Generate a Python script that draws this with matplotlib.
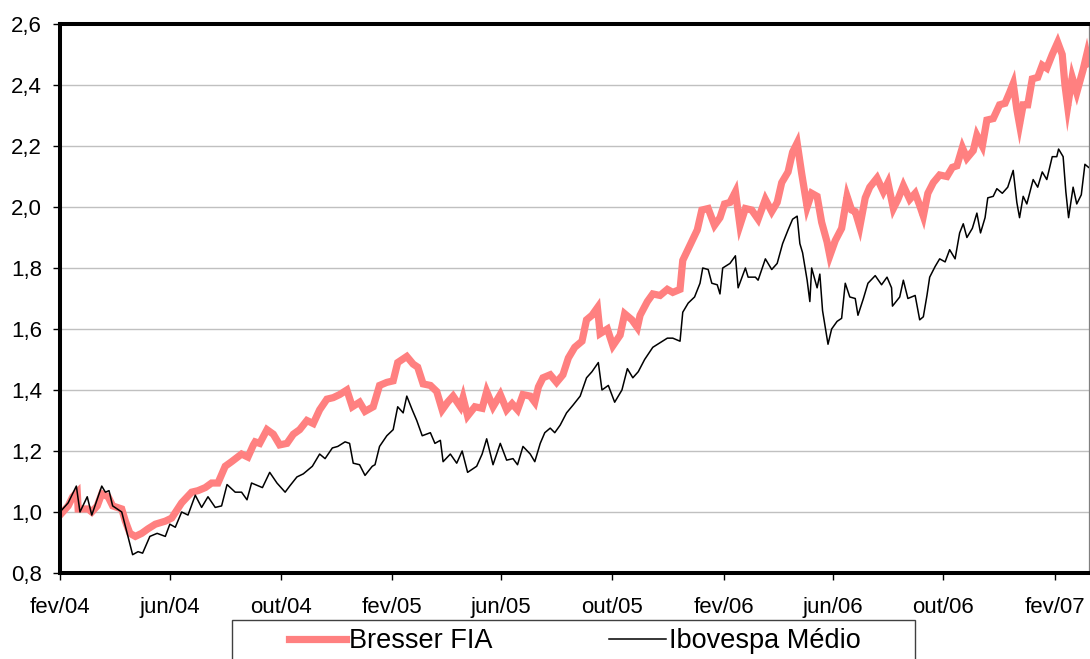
import numpy as np
import pandas as pd
import matplotlib
matplotlib.use("Agg")
import matplotlib.pyplot as plt
from matplotlib.patches import Rectangle

plt.rcParams['font.family'] = ['Liberation Sans', 'DejaVu Sans']

# ---------------- data (days since 2004-02-01, index value) ----------------
start_date = "2004-02-01"

bresser_days = [0, 9, 14, 19, 20, 31, 35, 41, 46, 53, 58, 68, 72, 77, 83, 90, 97, 105, 116, 123,
                134, 145, 152, 160, 167, 174, 182, 189, 200, 207, 213, 215, 220, 228, 235, 242, 250,
                257, 264, 272, 279, 286, 294, 301, 308, 316, 322, 330, 336, 345, 352, 360, 367, 372,
                382, 389, 394, 400, 408, 415, 421, 427, 433, 441, 444, 449, 457, 465, 470, 477, 485,
                492, 498, 504, 510, 518, 523, 527, 532, 540, 547, 554, 560, 567, 575, 580, 586, 592,
                595, 603, 609, 617, 622, 630, 636, 639, 647, 653, 661, 669, 675, 683, 686, 694, 702,
                707, 714, 721, 727, 732, 738, 744, 749, 755, 762, 769, 777, 784, 790, 795, 802, 807,
                812, 817, 823, 828, 834, 839, 845, 848, 854, 861, 867, 872, 876, 881, 887, 892, 900,
                907, 912, 918, 923, 929, 936, 942, 947, 951, 956, 962, 969, 977, 983, 988, 994, 999,
                1006, 1010, 1016, 1021, 1028, 1035, 1041, 1046, 1050, 1054, 1057, 1061, 1066, 1071,
                1077, 1082, 1087, 1093, 1099, 1104, 1107, 1110, 1115, 1120, 1127, 1131, 1133]
bresser_vals = [0.99, 1.02, 1.05, 1.065, 1.01, 1.01, 1.00, 1.02, 1.06, 1.05, 1.02, 1.01, 0.97, 0.93,
                0.92, 0.93, 0.945, 0.96, 0.97, 0.98, 1.03, 1.065, 1.07, 1.08, 1.095, 1.095, 1.15,
                1.165, 1.19, 1.18, 1.22, 1.23, 1.225, 1.27, 1.255, 1.22, 1.225, 1.255, 1.27, 1.30,
                1.29, 1.335, 1.37, 1.375, 1.385, 1.40, 1.345, 1.36, 1.33, 1.345, 1.415, 1.425, 1.43,
                1.49, 1.51, 1.485, 1.475, 1.42, 1.415, 1.395, 1.335, 1.36, 1.38, 1.345, 1.375, 1.315,
                1.345, 1.34, 1.395, 1.345, 1.385, 1.335, 1.355, 1.335, 1.385, 1.38, 1.36, 1.41, 1.44,
                1.45, 1.425, 1.45, 1.505, 1.54, 1.56, 1.63, 1.645, 1.67, 1.585, 1.60, 1.545, 1.58,
                1.65, 1.63, 1.605, 1.645, 1.69, 1.715, 1.71, 1.73, 1.72, 1.73, 1.825, 1.875, 1.925,
                1.99, 1.995, 1.94, 1.965, 2.01, 2.015, 2.05, 1.94, 1.995, 1.99, 1.96, 2.025, 1.985,
                2.015, 2.08, 2.115, 2.18, 2.21, 2.11, 2.00, 2.045, 2.035, 1.95, 1.885, 1.84, 1.89,
                1.93, 2.035, 1.99, 1.985, 1.935, 2.03, 2.065, 2.095, 2.05, 2.08, 1.995, 2.025, 2.07,
                2.025, 2.045, 2.005, 1.97, 2.045, 2.08, 2.105, 2.10, 2.13, 2.135, 2.195, 2.16, 2.185,
                2.235, 2.20, 2.285, 2.29, 2.335, 2.34, 2.375, 2.405, 2.32, 2.27, 2.335, 2.335, 2.42,
                2.425, 2.465, 2.455, 2.50, 2.54, 2.50, 2.40, 2.33, 2.425, 2.375, 2.45, 2.50, 2.47]

ibov_days = [0, 9, 18, 22, 30, 35, 46, 50, 54, 58, 68, 74, 80, 86, 91, 99, 107, 116, 121, 127, 134,
             141, 149, 156, 163, 171, 178, 184, 193, 200, 206, 211, 215, 223, 231, 239, 248, 253, 261,
             268, 278, 286, 292, 300, 306, 314, 319, 323, 330, 336, 344, 347, 352, 360, 367, 372, 378,
             382, 388, 393, 399, 408, 413, 419, 422, 430, 437, 443, 449, 459, 465, 470, 477, 485, 492,
             499, 504, 510, 518, 523, 529, 534, 540, 545, 551, 558, 565, 573, 580, 586, 593, 597, 604,
             611, 619, 625, 631, 637, 644, 653, 661, 669, 675, 683, 686, 692, 699, 705, 708, 714, 718,
             724, 727, 730, 738, 744, 747, 755, 758, 766, 769, 777, 784, 790, 796, 802, 807, 812, 815,
             818, 823, 826, 828, 834, 837, 840, 846, 850, 856, 861, 865, 870, 876, 879, 885, 890, 898,
             905, 911, 916, 917, 925, 929, 934, 942, 947, 951, 955, 958, 964, 969, 975, 980, 986, 991,
             995, 999, 1005, 1010, 1014, 1019, 1022, 1028, 1032, 1038, 1044, 1050, 1054, 1057, 1061,
             1065, 1072, 1077, 1082, 1087, 1093, 1098, 1100, 1105, 1108, 1111, 1116, 1120, 1125, 1129,
             1133]
ibov_vals = [1.00, 1.03, 1.085, 1.00, 1.05, 0.99, 1.085, 1.065, 1.07, 1.02, 1.00, 0.93, 0.86, 0.87,
             0.865, 0.92, 0.93, 0.92, 0.96, 0.95, 1.00, 0.99, 1.055, 1.015, 1.05, 1.015, 1.02, 1.09,
             1.065, 1.065, 1.04, 1.095, 1.09, 1.08, 1.13, 1.095, 1.065, 1.085, 1.115, 1.125, 1.15,
             1.19, 1.175, 1.21, 1.215, 1.23, 1.225, 1.16, 1.155, 1.12, 1.15, 1.155, 1.215, 1.25, 1.27,
             1.345, 1.325, 1.38, 1.335, 1.30, 1.25, 1.26, 1.225, 1.235, 1.165, 1.19, 1.16, 1.20, 1.13,
             1.15, 1.19, 1.24, 1.155, 1.225, 1.17, 1.175, 1.155, 1.215, 1.19, 1.165, 1.225, 1.26,
             1.275, 1.26, 1.285, 1.325, 1.35, 1.38, 1.44, 1.46, 1.49, 1.40, 1.415, 1.36, 1.40, 1.47,
             1.44, 1.46, 1.50, 1.54, 1.555, 1.57, 1.57, 1.56, 1.655, 1.685, 1.705, 1.75, 1.80, 1.795,
             1.75, 1.745, 1.715, 1.80, 1.815, 1.84, 1.735, 1.80, 1.77, 1.77, 1.76, 1.83, 1.795, 1.815,
             1.88, 1.925, 1.96, 1.97, 1.88, 1.85, 1.76, 1.69, 1.80, 1.735, 1.78, 1.66, 1.55, 1.60,
             1.625, 1.635, 1.75, 1.705, 1.70, 1.645, 1.70, 1.75, 1.775, 1.745, 1.77, 1.735, 1.675,
             1.705, 1.76, 1.70, 1.71, 1.63, 1.64, 1.71, 1.77, 1.805, 1.83, 1.82, 1.86, 1.83, 1.915,
             1.945, 1.90, 1.93, 1.98, 1.915, 1.965, 2.03, 2.035, 2.06, 2.045, 2.065, 2.12, 2.015,
             1.965, 2.035, 2.01, 2.09, 2.065, 2.115, 2.09, 2.165, 2.165, 2.19, 2.165, 2.05, 1.965,
             2.065, 2.01, 2.04, 2.14, 2.13]

series_names = ["Bresser FIA", "Ibovespa Médio"]
tick_dates = ["2004-02-01", "2004-06-01", "2004-10-01", "2005-02-01", "2005-06-01", "2005-10-01",
              "2006-02-01", "2006-06-01", "2006-10-01", "2007-02-01"]
tick_labels = ["fev/04", "jun/04", "out/04", "fev/05", "jun/05", "out/05",
               "fev/06", "jun/06", "out/06", "fev/07"]
y_ticks = [0.8, 1.0, 1.2, 1.4, 1.6, 1.8, 2.0, 2.2, 2.4, 2.6]
y_labels = ["0,8", "1,0", "1,2", "1,4", "1,6", "1,8", "2,0", "2,2", "2,4", "2,6"]
x_end_days = 1133.5

# ---------------- figure ----------------
W, H = 1090, 659
fig = plt.figure(figsize=(W / 100, H / 100), dpi=100)
fig.patch.set_facecolor("white")
ax = fig.add_axes([60 / W, 1 - 573 / H, 1029 / W, 549 / H])

t0 = pd.Timestamp(start_date)
b_x = t0 + pd.to_timedelta(bresser_days, unit="D")
i_x = t0 + pd.to_timedelta(ibov_days, unit="D")

pink = "#FF8080"
ax.plot(b_x, bresser_vals, color=pink, lw=5.2, solid_joinstyle="miter", zorder=2,
        label=series_names[0])
ax.plot(i_x, ibov_vals, color="black", lw=1.1, zorder=3, label=series_names[1])

ax.set_ylim(0.8, 2.6)
ax.set_xlim(t0, t0 + pd.Timedelta(days=x_end_days))
ax.set_yticks(y_ticks)
ax.set_yticklabels(y_labels)
ax.set_xticks(pd.to_datetime(tick_dates))
ax.set_xticklabels(tick_labels)

ax.grid(axis="y", color="#C0C0C0", lw=1.0, zorder=0)
ax.set_axisbelow(True)

for s in ["top", "left", "bottom"]:
    ax.spines[s].set_linewidth(2.9)
    ax.spines[s].set_color("black")
ax.spines["right"].set_linewidth(0.9)
ax.spines["right"].set_color("#808080")

ax.tick_params(axis="both", direction="out", length=5, width=1, color="black",
               labelsize=16, labelcolor="black")
ax.tick_params(axis="y", pad=8)
ax.tick_params(axis="x", pad=12)

# legend (cut at the bottom edge, as in the original)
leg = ax.legend(loc="center left", bbox_to_anchor=(289 / W, 1 - 641 / H),
                bbox_transform=fig.transFigure, ncol=2, frameon=False, fontsize=19.5,
                handlelength=2.1, handletextpad=0.12, columnspacing=4.3, borderpad=0,
                borderaxespad=0)
fig.patches.append(Rectangle((232 / W, -0.05), (915 - 232) / W, 0.05 + (659 - 620) / H,
                             transform=fig.transFigure, fill=False, edgecolor="#404040",
                             lw=1.0, zorder=5))

fig.savefig("out.png", dpi=100)
